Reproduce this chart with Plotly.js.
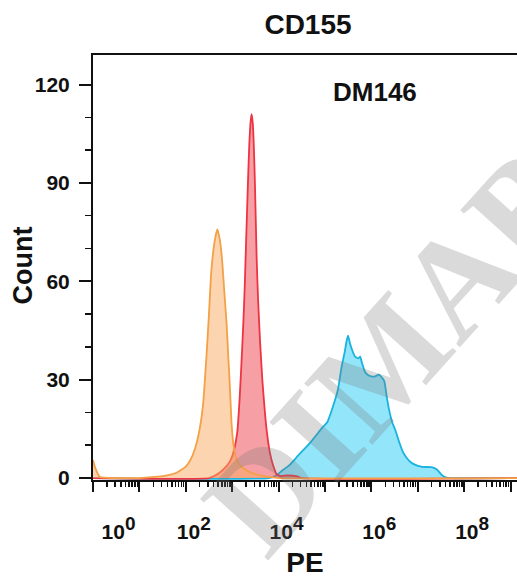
<!DOCTYPE html>
<html>
<head>
<meta charset="utf-8">
<script src="https://cdn.plot.ly/plotly-3.0.1.min.js"></script>
<style>html,body{margin:0;padding:0;background:#fff;}</style>
</head>
<body>
<div id="chart" style="width:517px;height:578px;"></div>
<script>
// ---- data (x read as log10(PE), y = count) ----
const orangeLog10 = [0, 0.05, 0.15, 0.5, 1.0, 1.4, 1.6, 1.8, 2.0, 2.1, 2.2, 2.3, 2.37, 2.45, 2.5, 2.55, 2.62, 2.68, 2.73, 2.78, 2.83, 2.88, 2.92, 2.95, 2.99, 3.03, 3.1, 3.2, 3.38, 3.55, 3.75, 4.0, 9.14];
const orangeCount = [5.5, 3, 0.3, 0, 0, 0.4, 0.8, 1.6, 3.5, 5.5, 9, 15, 22, 38, 50, 63, 72, 75.8, 73, 67, 57, 47, 36, 28, 16, 10, 5.5, 3.5, 1.8, 1, 0.4, 0, 0];

const redLog10 = [0, 2.5, 2.66, 2.8, 2.95, 3.03, 3.11, 3.16, 3.2, 3.24, 3.27, 3.3, 3.34, 3.37, 3.4, 3.42, 3.445, 3.47, 3.49, 3.51, 3.53, 3.56, 3.6, 3.65, 3.7, 3.74, 3.81, 3.88, 3.96, 4.05, 4.2, 4.4, 4.5, 9.14];
const redCount = [0, 0, 1, 2.5, 5, 8, 14, 24, 35, 47, 58, 72, 90, 102, 109, 111, 108, 100, 90, 78, 66, 54, 42, 30, 21, 15, 8, 4, 1.2, 0.6, 0.8, 0.5, 0, 0];

const blueLog10 = [0, 3.8, 3.95, 4.1, 4.24, 4.4, 4.53, 4.68, 4.82, 4.95, 5.05, 5.13, 5.2, 5.28, 5.36, 5.42, 5.47, 5.5, 5.54, 5.6, 5.65, 5.72, 5.76, 5.8, 5.86, 5.92, 6.0, 6.08, 6.16, 6.22, 6.28, 6.33, 6.38, 6.45, 6.52, 6.6, 6.68, 6.76, 6.85, 6.95, 7.1, 7.3, 7.42, 7.5, 7.58, 7.7, 9.14];
const blueCount = [0, 0, 0.8, 2.5, 4, 6.5, 8.5, 10.7, 13.2, 15.5, 17, 20, 23, 27, 34, 38, 42, 43.4, 41, 38.5, 37, 36.5, 37, 35, 32.5, 31.5, 31, 31, 31.5, 30.8, 29.5, 25, 21, 17, 14.5, 11, 8, 6.2, 4.8, 4, 3.4, 3.3, 2.5, 1.2, 0.3, 0, 0];

const decadeExponents = [0, 1, 2, 3, 4, 5, 6, 7, 8, 9];
const xTickLabels = ['10<sup>0</sup>', '', '10<sup>2</sup>', '', '10<sup>4</sup>', '', '10<sup>6</sup>', '', '10<sup>8</sup>', ''];
const yTickValues = [0, 30, 60, 90, 120];
const yTickLabels = ['0', '30', '60', '90', '120'];

const chartTitle = 'CD155';
const sampleLabel = 'DM146';
const xTitle = 'PE';
const yTitle = 'Count';
const watermark = 'DIMABIO';

// ---- build ----
const toPE = arr => arr.map(e => Math.pow(10, e));
const supStyled = s => s.replace(/<sup>(.*?)<\/sup>/, '<sup><span style="font-size:19px">$1</span></sup>');
const tickText = xTickLabels.map((s, i) => {
  if (!s) return '';
  let t = supStyled(s);
  if (i === 0) t = '\u00a0\u00a0\u00a0\u00a0\u00a0\u00a0' + t;
  return t;
});
const minorVals = [];
decadeExponents.forEach(n => { for (let k = 2; k <= 9; k++) minorVals.push(k * Math.pow(10, n)); });

function trace(xs, ys, line, fill) {
  return {
    x: toPE(xs), y: ys, type: 'scatter', mode: 'lines',
    line: {color: line, width: 1.8, shape: 'spline', smoothing: 0.5},
    fill: 'tozeroy', fillcolor: fill, hoverinfo: 'skip'
  };
}

const data = [
  trace(blueLog10, blueCount, '#19B3DF', 'rgba(30,200,245,0.48)'),
  trace(redLog10, redCount, '#EE3442', 'rgba(237,65,75,0.5)'),
  trace(orangeLog10, orangeCount, '#F3A046', 'rgba(250,170,95,0.5)')
];

const FONT = 'Arial, "Liberation Sans", Helvetica, sans-serif';
const PX = v => (v - 93) / 424;      // pixel -> paper x
const PY = v => (480 - v) / 425;     // pixel -> paper y
const layout = {
  width: 517, height: 578,
  margin: {l: 93, r: 0, t: 55, b: 98},
  paper_bgcolor: '#ffffff', plot_bgcolor: '#ffffff',
  showlegend: false,
  font: {family: FONT, color: '#111111'},
  title: {text: chartTitle, x: 308 / 517, xref: 'container', y: 1 - 24 / 578, yref: 'container',
          xanchor: 'center', yanchor: 'middle', font: {size: 28, weight: 'bold', color: '#111'}},
  xaxis: {
    type: 'log', range: [0, 9.14], fixedrange: true,
    showline: true, linecolor: '#111', linewidth: 2, mirror: true,
    showgrid: false, zeroline: false,
    ticks: 'outside', ticklen: 10, tickwidth: 2, tickcolor: '#111',
    tickmode: 'array', tickvals: decadeExponents.map(n => Math.pow(10, n)), ticktext: tickText,
    tickfont: {size: 21, weight: 'bold', color: '#111'},
    ticklabelshift: 8, ticklabelstandoff: 22,
    minor: {tickmode: 'array', tickvals: minorVals, ticks: 'outside', ticklen: 5, tickwidth: 1.5, tickcolor: '#111', showgrid: false},
    title: {text: xTitle, font: {size: 28, weight: 'bold', color: '#111'}, standoff: 14}
  },
  yaxis: {
    range: [-0.6, 129], fixedrange: true,
    showline: true, linecolor: '#111', linewidth: 2,
    showgrid: false, zeroline: false,
    ticks: 'outside', ticklen: 12, tickwidth: 2, tickcolor: '#111',
    tickmode: 'array', tickvals: yTickValues, ticktext: yTickLabels,
    tickfont: {size: 21, weight: 'bold', color: '#111'},
    ticklabelstandoff: 5,
    minor: {dtick: 10, ticks: 'outside', ticklen: 6, tickwidth: 1.5, tickcolor: '#111', showgrid: false}
  },
  annotations: [
    {text: yTitle, xref: 'paper', yref: 'paper', x: PX(22.5), y: PY(266),
     showarrow: false, xanchor: 'center', yanchor: 'middle', textangle: -90,
     font: {size: 27, weight: 'bold', color: '#111'}},
    {text: sampleLabel, xref: 'paper', yref: 'paper', x: PX(374.5), y: PY(92),
     showarrow: false, xanchor: 'center', yanchor: 'middle', font: {size: 26, weight: 'bold', color: '#111'}},
    {text: watermark, xref: 'paper', yref: 'paper', x: PX(447), y: PY(290),
     showarrow: false, xanchor: 'center', yanchor: 'middle', textangle: -48,
     font: {family: '"Liberation Serif", "Times New Roman", serif', size: 140, weight: 'bold', color: 'rgba(120,120,120,0.27)'}}
  ]
};

Plotly.newPlot('chart', data, layout, {displayModeBar: false, staticPlot: true});
</script>
</body>
</html>
